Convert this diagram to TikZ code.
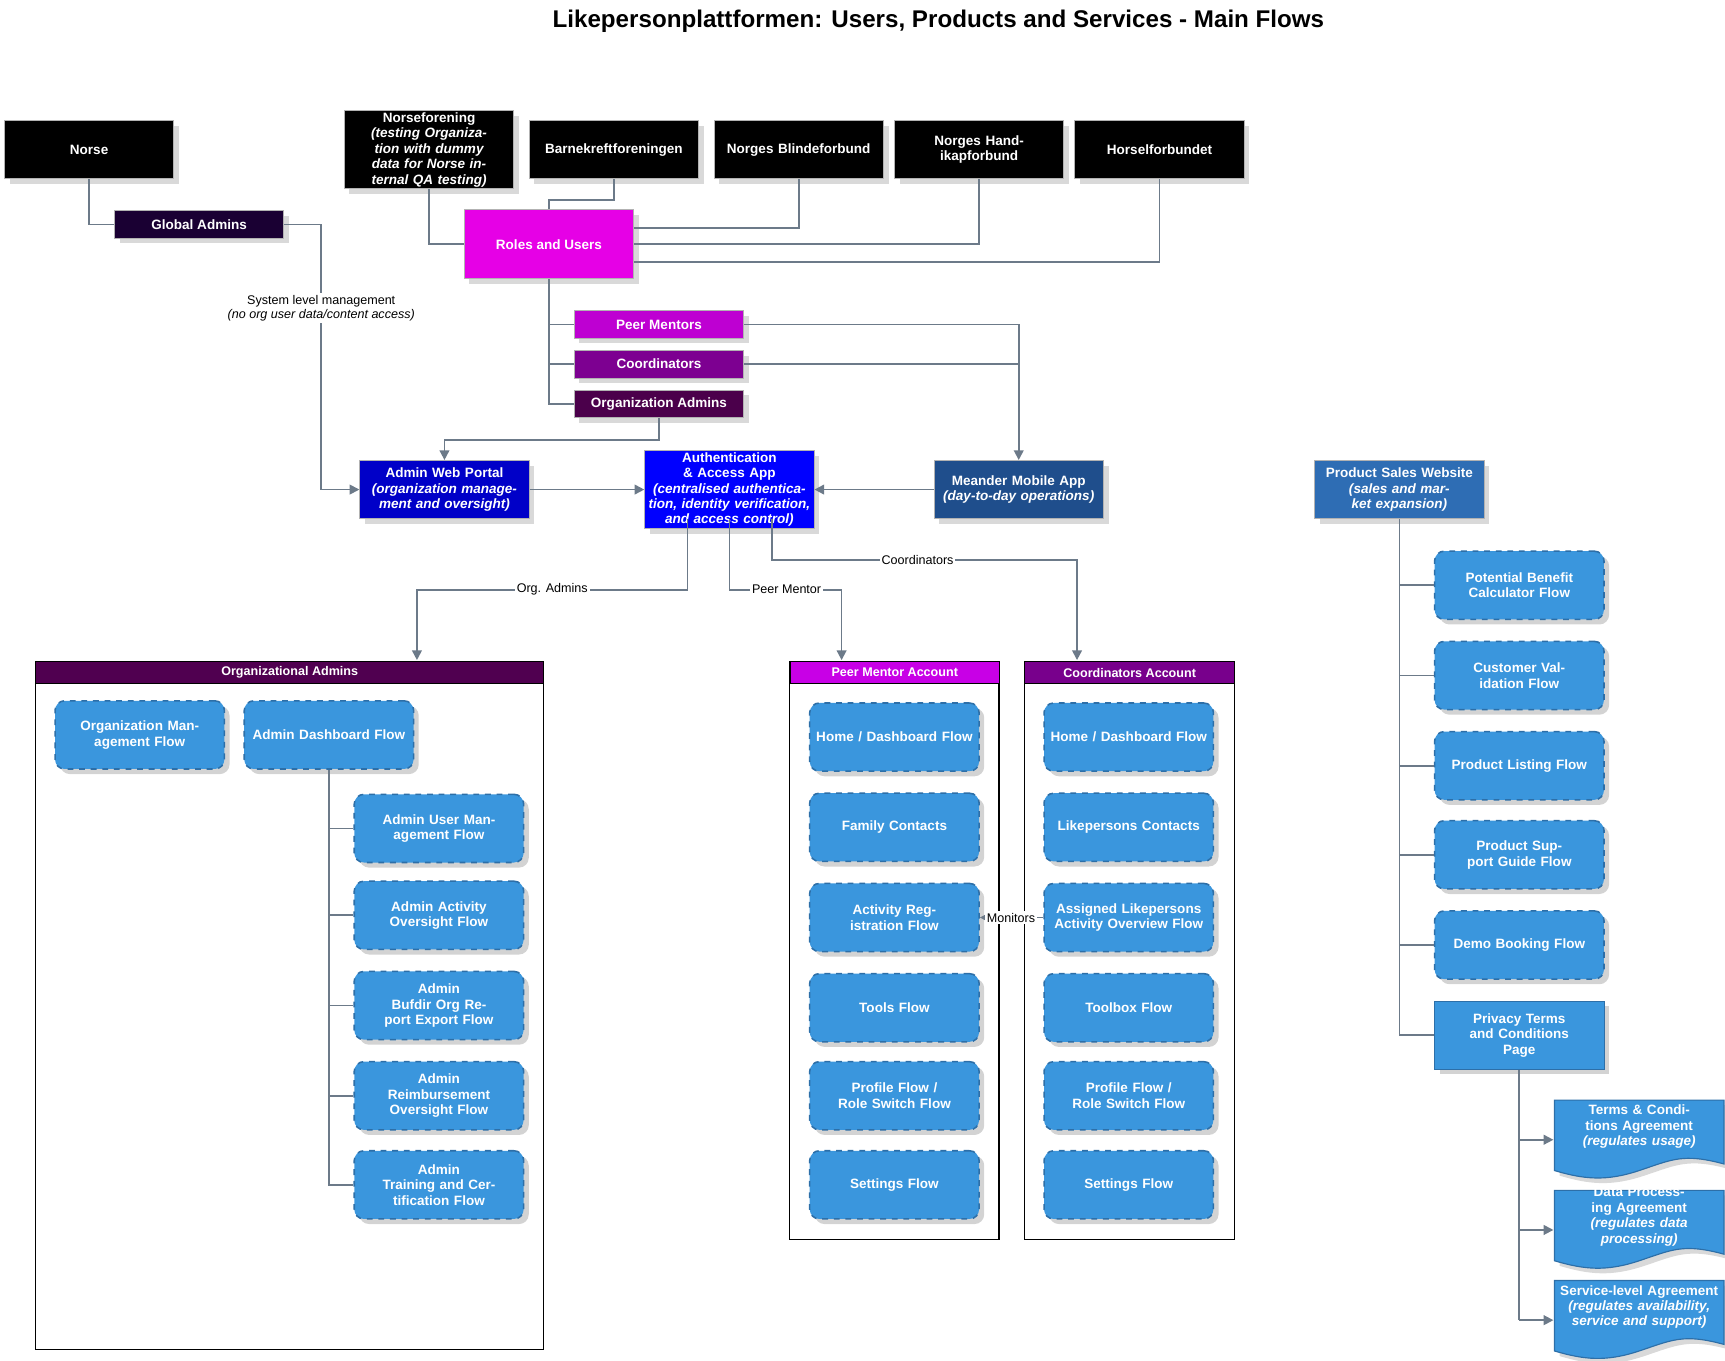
\documentclass[tikz,border=0pt]{standalone}
\usepackage{fontspec}
\setmainfont{Liberation Sans}
\usetikzlibrary{arrows.meta,shadows}
\definecolor{flowblue}{HTML}{3A96DD}
\definecolor{flowedge}{HTML}{2D6FA8}
\definecolor{lineg}{HTML}{6C7A89}
\begin{document}
\begin{tikzpicture}[x=0.02cm,y=-0.02cm,
  every node/.style={font=\fontsize{7}{8}\selectfont\bfseries, text=white, align=center, inner sep=1pt},
  blk/.style={rectangle, fill=black, draw=gray!60, minimum width=3.08cm, minimum height=1.06cm, text width=2.95cm, drop shadow={opacity=0.3}},
  role/.style={rectangle, draw=gray!60, minimum width=3.08cm, minimum height=0.5cm, drop shadow={opacity=0.3}},
  app/.style={rectangle, draw=gray!60, minimum width=3.08cm, minimum height=1.06cm, text width=3.0cm, drop shadow={opacity=0.3}},
  flow/.style={rectangle, rounded corners=5pt, fill=flowblue, draw=flowedge, dashed, line width=0.8pt, minimum width=3.08cm, minimum height=1.24cm, text width=2.85cm, drop shadow={opacity=0.35}},
  conn/.style={draw=lineg, line width=0.9pt},
  arr/.style={conn, -{Triangle[width=5pt,length=5pt]}},
  lbl/.style={fill=white, text=black, font=\fontsize{6.5}{7.5}\selectfont, inner sep=1pt},
  hdr/.style={rectangle, draw=black, minimum height=0.4cm, anchor=north west, text=white, font=\fontsize{6.5}{7.5}\selectfont\bfseries}
]
\useasboundingbox (0,0) rectangle (1568,1237);
\node[text=black, font=\fontsize{12.5}{14}\selectfont\bfseries] (title) at (853,19) {Likepersonplattformen: Users, Products and Services - Main Flows};

% black org boxes
\node[blk] (norse) at (81,136) {Norse};
\node[blk] (nf) at (390,136) {Norseforening\\\itshape (testing Organization with dummy data for Norse internal QA testing)};
\node[blk] (bk) at (558,136) {Barnekreftforeningen};
\node[blk] (nb) at (726,136) {Norges Blindeforbund};
\node[blk] (nh) at (890,136) {Norges Handikapforbund};
\node[blk] (hf) at (1054,136) {Horselforbundet};

\node[role, fill={rgb,255:red,26;green,0;blue,51}] (ga) at (181,204) {Global Admins};
\node[rectangle, draw=gray!60, fill={rgb,255:red,230;green,0;blue,230}, minimum width=3.08cm, minimum height=1.26cm, drop shadow={opacity=0.3}] (ru) at (499,222) {Roles and Users};
\node[role, fill={rgb,255:red,190;green,0;blue,210}] (pm) at (599,295) {Peer Mentors};
\node[role, fill={rgb,255:red,125;green,0;blue,145}] (co) at (599,331) {Coordinators};
\node[role, fill={rgb,255:red,75;green,0;blue,75}] (oa) at (599,367) {Organization Admins};

\node[app, fill={rgb,255:red,0;green,0;blue,200}] (awp) at (404,445) {Admin Web Portal\\\itshape (organization management and oversight)};
\node[app, fill={rgb,255:red,0;green,0;blue,255}] (auth) at (663,445) {Authentication \& Access App\\\itshape (centralised authentication, identity verification, and access control)};
\node[app, fill={rgb,255:red,31;green,78;blue,140}] (mma) at (926,445) {Meander Mobile App\\\itshape (day-to-day operations)};
\node[app, fill={rgb,255:red,46;green,109;blue,180}] (psw) at (1272,445) {Product Sales Website\\\itshape (sales and market expansion)};

% top connectors
\draw[conn] (norse.south) |- (ga.west);
\draw[arr] (ga.east) -- (292,204) -- (292,445) -- (awp.west);
\node[lbl] (sl) at (292,280) {System level management\\\itshape (no org user data/content access)};
\draw[conn] (nf.south) |- (ru.west);
\draw[conn] (bk.south) -- (558,182) -- (499,182) -- (ru.north);
\draw[conn] (nb.south) |- (576,207);
\draw[conn] (nh.south) |- (576,222);
\draw[conn] (hf.south) |- (576,238);
\draw[conn] (ru.south) |- (oa.west);
\draw[conn] (499,295) -- (pm.west);
\draw[conn] (499,331) -- (co.west);
\draw[arr] (pm.east) -| (mma.north);
\draw[conn] (co.east) -- (926,331);
\draw[arr] (oa.south) -- (599,400) -- (404,400) -- (awp.north);
\draw[arr] (awp.east) -- (auth.west);
\draw[arr] (mma.west) -- (auth.east);

% containers
\draw[black, line width=0.6pt] (32,601) rectangle (494,1227);
\node[hdr, fill={rgb,255:red,80;green,0;blue,80}, minimum width=9.24cm] (oah) at (32,601) {Organizational Admins};
\draw[black, line width=0.6pt] (718,601) rectangle (908,1127);
\node[hdr, fill={rgb,255:red,200;green,0;blue,230}, minimum width=3.8cm] (pmh) at (718,601) {Peer Mentor Account};
\draw[black, line width=0.6pt] (931,601) rectangle (1122,1127);
\node[hdr, fill={rgb,255:red,120;green,0;blue,140}, minimum width=3.82cm] (coh) at (931,601) {Coordinators Account};

\draw[arr] (625,472) -- (625,536) -- (379,536) -- (379,600);
\node[lbl] (l1) at (502,536) {Org. Admins};
\draw[arr] (663,472) -- (663,536) -- (765,536) -- (765,600);
\node[lbl] (l2) at (715,536) {Peer Mentor};
\draw[arr] (702,472) -- (702,509) -- (979,509) -- (979,600);
\node[lbl] (l3) at (834,509) {Coordinators};

% org admin flows
\node[flow] (omf) at (127,668) {Organization Management Flow};
\node[flow] (adf) at (299,668) {Admin Dashboard Flow};
\node[flow] (a1) at (399,753) {Admin User Management Flow};
\node[flow] (a2) at (399,832) {Admin Activity Oversight Flow};
\node[flow] (a3) at (399,914) {Admin\\Bufdir Org Report Export Flow};
\node[flow] (a4) at (399,996) {Admin\\Reimbursement Oversight Flow};
\node[flow] (a5) at (399,1077) {Admin\\Training and Certification Flow};
\draw[conn] (adf.south) |- (a5.west);
\foreach \n in {a1,a2,a3,a4} \draw[conn] (299,0 |- \n.west) -- (\n.west);

% peer mentor flows
\node[flow] (p1) at (813,670) {Home / Dashboard Flow};
\node[flow] (p2) at (813,752) {Family Contacts};
\node[flow] (p3) at (813,834) {Activity Registration Flow};
\node[flow] (p4) at (813,916) {Tools Flow};
\node[flow] (p5) at (813,996) {Profile Flow / Role Switch Flow};
\node[flow] (p6) at (813,1077) {Settings Flow};
% coordinator flows
\node[flow] (c1) at (1026,670) {Home / Dashboard Flow};
\node[flow] (c2) at (1026,752) {Likepersons Contacts};
\node[flow] (c3) at (1026,834) {Assigned Likepersons Activity Overview Flow};
\node[flow] (c4) at (1026,916) {Toolbox Flow};
\node[flow] (c5) at (1026,996) {Profile Flow / Role Switch Flow};
\node[flow] (c6) at (1026,1077) {Settings Flow};
\draw[arr] (c3.west) -- (p3.east);
\node[lbl] (mon) at (919,834) {Monitors};

% product website flows
\node[flow] (s1) at (1381,532) {Potential Benefit Calculator Flow};
\node[flow] (s2) at (1381,614) {Customer Validation Flow};
\node[flow] (s3) at (1381,696) {Product Listing Flow};
\node[flow] (s4) at (1381,777) {Product Support Guide Flow};
\node[flow] (s5) at (1381,859) {Demo Booking Flow};
\node[rectangle, fill=flowblue, draw=flowedge, minimum width=3.08cm, minimum height=1.24cm, text width=2.85cm, drop shadow={opacity=0.35}] (s6) at (1381,941) {Privacy Terms and Conditions\\Page};
\draw[conn] (psw.south) |- (s6.west);
\foreach \n in {s1,s2,s3,s4,s5} \draw[conn] (1272,0 |- \n.west) -- (\n.west);

% documents
\foreach \cy/\nm/\tx in {1036/d1/{Terms \& Conditions Agreement\\\itshape (regulates usage)},1118/d2/{Data Processing Agreement\\\itshape (regulates data processing)},1200/d3/{Service-level Agreement\\\itshape (regulates availability, service and support)}}{
  \fill[flowblue, draw=flowedge, line width=0.6pt, drop shadow={opacity=0.3}] (1413,\cy-36) -- (1567,\cy-36) -- (1567,\cy+22) .. controls (1530,\cy+12) and (1520,\cy+18) .. (1490,\cy+28) .. controls (1460,\cy+38) and (1440,\cy+36) .. (1413,\cy+28) -- cycle;
  \node[text width=3.0cm] (\nm) at (1490,\cy-12) {\tx};
}
\draw[conn] (s6.south) -- (1381,1200);
\foreach \cy in {1036,1118,1200} \draw[arr] (1381,\cy) -- (1412,\cy);
\end{tikzpicture}
\end{document}
